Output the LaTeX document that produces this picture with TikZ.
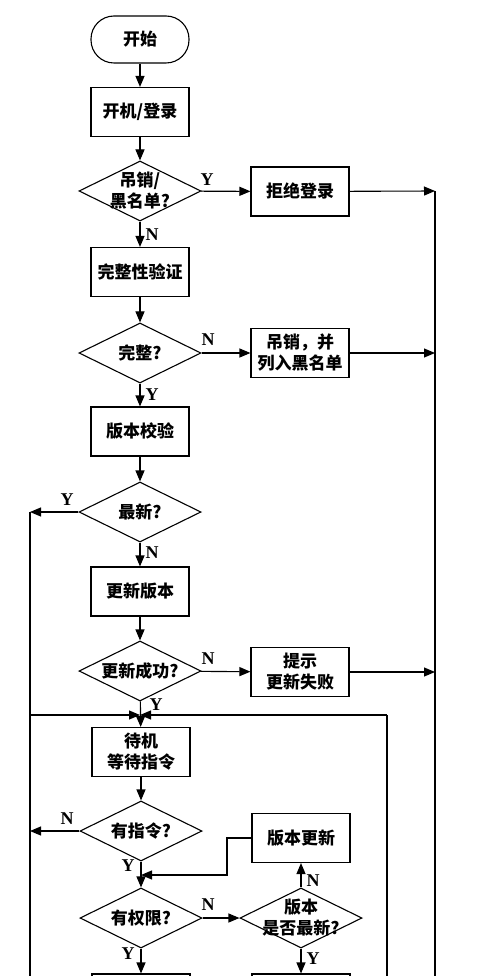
\documentclass[tikz,border=0pt]{standalone}
\usepackage{fontspec}
\newfontfamily\cjk{Noto Sans CJK SC}
\newfontfamily\lat{Liberation Serif}
\usetikzlibrary{calc,shapes.geometric,arrows.meta}

\begin{document}
\begin{tikzpicture}[x=1pt,y=-1pt,
  box/.style={draw,line width=1.1pt,minimum width=98pt,minimum height=49pt,inner sep=0pt,align=center,font=\cjk\bfseries\fontsize{17}{21}\selectfont},
  term/.style={box,minimum height=47pt,rounded corners=23pt},
  dec/.style={draw,line width=1.1pt,diamond,minimum width=122pt,minimum height=60pt,inner sep=0pt},
  txt/.style={inner sep=0pt,align=center,font=\cjk\bfseries\fontsize{17}{21}\selectfont},
  yn/.style={inner sep=0pt,font=\lat\bfseries\fontsize{18}{18}\selectfont},
  arr/.style={line width=1.1pt,-{Triangle[length=11pt,width=9pt]}},
  ln/.style={line width=1.1pt}]
\clip (0,0) rectangle (500,976);
\fill[white] (0,0) rectangle (500,976);

\node[term] (S) at (140,39.5) {开始};
\node[box] (L) at (140,112) {开机/登录};
\node[dec] (D1) at (140,191) {};
\node[txt] at (D1) {吊销/\\黑名单?};
\node[box] (R1) at (300,191.5) {拒绝登录};
\node[box] (V) at (140,272) {完整性验证};
\node[dec] (D2) at (140,353) {};
\node[txt] at (D2) {完整?};
\node[box] (R2) at (300,353) {吊销，并\\列入黑名单};
\node[box] (C) at (140,431.5) {版本校验};
\node[dec] (D3) at (140,512) {};
\node[txt] at (D3) {最新?};
\node[box] (U) at (140,591.5) {更新版本};
\node[dec] (D4) at (140,671) {};
\node[txt] at (D4) {更新成功?};
\node[box] (R3) at (300,672) {提示\\更新失败};
\node[box] (W) at (141,752) {待机\\等待指令};
\node[dec] (D5) at (141,831) {};
\node[txt] at (D5) {有指令?};
\node[box] (R4) at (301,838) {版本更新};
\node[dec] (D6) at (141,918) {};
\node[txt] at (D6) {有权限?};
\node[dec] (D7) at (301,918) {};
\node[txt] at (D7) {版本\\是否最新?};
\node[box] (E1) at (141,998.5) {};
\node[box] (E2) at (301,998.5) {};

\coordinate (RT) at (435,191);
\coordinate (RB) at (435,980);
\coordinate (LT) at (30,512);
\coordinate (LB) at (30,980);
\coordinate (J) at (140,715);
\coordinate (JL) at (30,715);
\coordinate (JR) at (387,715);
\coordinate (JB) at (387,980);
\coordinate (KT) at (227,838);
\coordinate (KB) at (227,875);
\coordinate (K) at (141,875);

\draw[arr] (S) -- (L);
\draw[arr] (L) -- (D1);
\draw[arr] (D1) -- (R1);
\draw[arr] (D1) -- (V);
\draw[arr] (R1) -- (RT);
\draw[ln] (RT) -- (RB);
\draw[arr] (V) -- (D2);
\draw[arr] (D2) -- (R2);
\draw[arr] (R2) -- (R2 -| RT);
\draw[arr] (D2) -- (C);
\draw[arr] (C) -- (D3);
\draw[arr] (D3) -- (LT);
\draw[ln] (LT) -- (LB);
\draw[arr] (D3) -- (U);
\draw[arr] (U) -- (D4);
\draw[arr] (D4) -- (R3);
\draw[arr] (R3) -- (R3 -| RT);
\draw[arr] (D4) -- (W);
\draw[arr] (JL) -- (J);
\draw[arr] (JR) -- (J);
\draw[ln] (JR) -- (JB);
\draw[arr] (W) -- (D5);
\draw[arr] (D5) -- (D5 -| LT);
\draw[arr] (D5) -- (D6);
\draw[arr] (R4) -- (KT) -- (KB) -- (K);
\draw[arr] (D6) -- (D7);
\draw[arr] (D7) -- (R4);
\draw[arr] (D7) -- (E2);
\draw[arr] (D6) -- (E1);

\node[yn] at (207,180) {Y};
\node[yn] at (152,235) {N};
\node[yn] at (208,340) {N};
\node[yn] at (152,395) {Y};
\node[yn] at (67,500) {Y};
\node[yn] at (152,553) {N};
\node[yn] at (208,659) {N};
\node[yn] at (156,705) {Y};
\node[yn] at (67,819) {N};
\node[yn] at (128,866) {Y};
\node[yn] at (208,905) {N};
\node[yn] at (313,881) {N};
\node[yn] at (313,959) {Y};
\node[yn] at (128,954) {Y};
\end{tikzpicture}
\end{document}
